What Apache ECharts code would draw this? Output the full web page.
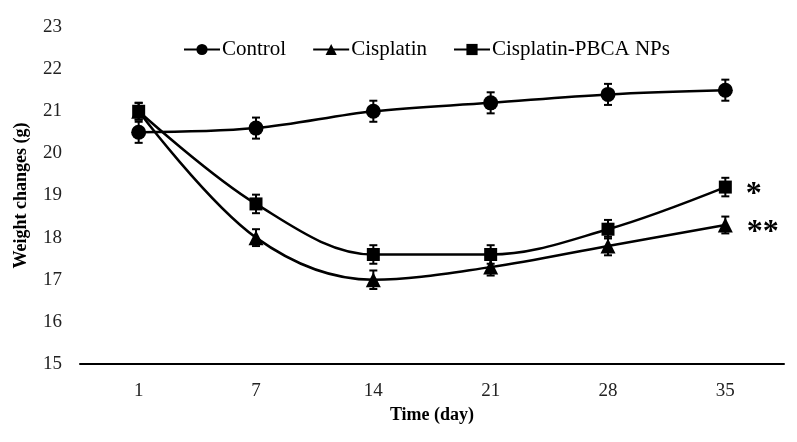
<!DOCTYPE html>
<html>
<head>
<meta charset="utf-8">
<script src="https://cdn.jsdelivr.net/npm/echarts@6/dist/echarts.min.js"></script>
<style>
  html, body { margin: 0; padding: 0; background: #fff; }
  #main { width: 797px; height: 442px; }
</style>
</head>
<body>
<div id="main"></div>
<script>
// 数据
var days = ['1', '7', '14', '21', '28', '35'];
var control = [20.5, 20.6, 21.0, 21.2, 21.4, 21.5];
var cisplatin = [21.0, 18.0, 17.0, 17.3, 17.8, 18.3];
var pbca = [21.0, 18.8, 17.6, 17.6, 18.2, 19.2];
var controlErr = [0.25, 0.25, 0.25, 0.25, 0.25, 0.25];
var cisplatinErr = [0.2, 0.2, 0.22, 0.2, 0.22, 0.2];
var pbcaErr = [0.2, 0.22, 0.22, 0.22, 0.22, 0.22];
var marks = { 'Cisplatin': '**', 'Cisplatin-PBCA NPs': '*' };

var FONT = '"Liberation Serif", "Times New Roman", serif';
var chart = echarts.init(document.getElementById('main'));

//误差棒
function errData(vals, errs) {
    return vals.map(function (v, i) { return [i, v - errs[i], v + errs[i]]; });
}
function errSeries(name, vals, errs) {
    return {
        type: 'custom',
        name: name,
        z: 3,
        silent: true,
        data: errData(vals, errs),
        renderItem: function (params, api) {
            var top = api.coord([api.value(0), api.value(2)]);
            var bot = api.coord([api.value(0), api.value(1)]);
            var w = 4;
            var st = { stroke: '#000', lineWidth: 2 };
            return {
                type: 'group',
                children: [
                    { type: 'line', shape: { x1: top[0], y1: top[1], x2: bot[0], y2: bot[1] }, style: st },
                    { type: 'line', shape: { x1: top[0] - w, y1: top[1], x2: top[0] + w, y2: top[1] }, style: st },
                    { type: 'line', shape: { x1: bot[0] - w, y1: bot[1], x2: bot[0] + w, y2: bot[1] }, style: st }
                ]
            };
        }
    };
}
function lineSeries(name, vals, symbol, size) {
    var last = vals.length - 1;
    return {
        type: 'line',
        name: name,
        data: vals,
        smooth: 0.35,
        symbol: symbol,
        symbolSize: size,
        z: 4,
        lineStyle: { color: '#000', width: 2.5 },
        itemStyle: { color: '#000' },
        label: {
            show: !!marks[name],
            position: 'right',
            distance: 14,
            offset: [0, 8],
            fontFamily: FONT,
            fontSize: 32,
            fontWeight: 'bold',
            color: '#000',
            formatter: function (p) { return p.dataIndex === last ? marks[name] : ''; }
        }
    };
}

chart.setOption({
    backgroundColor: '#fff',
    animation: false,
    textStyle: { fontFamily: FONT },
    legend: {
        top: 34,
        left: 178,
        itemGap: 26,
        itemWidth: 36,
        itemHeight: 14,
        data: ['Control', 'Cisplatin', 'Cisplatin-PBCA NPs'],
        textStyle: { fontFamily: FONT, fontSize: 21, color: '#000', padding: [0, 0, 0, -3] }
    },
    grid: { left: 80, right: 13, top: 27, bottom: 78 },
    xAxis: {
        type: 'category',
        data: days,
        name: 'Time (day)',
        nameLocation: 'middle',
        nameGap: 40,
        nameTextStyle: { fontFamily: FONT, fontSize: 18, fontWeight: 'bold', color: '#000' },
        axisLine: { lineStyle: { color: '#000', width: 2 } },
        axisTick: { show: false },
        axisLabel: { fontFamily: FONT, fontSize: 19, color: '#222', margin: 18 }
    },
    yAxis: {
        type: 'value',
        min: 15,
        max: 23,
        interval: 1,
        name: 'Weight changes (g)',
        nameLocation: 'middle',
        nameGap: 50,
        nameTextStyle: { fontFamily: FONT, fontSize: 18, fontWeight: 'bold', color: '#000' },
        axisLine: { show: false },
        axisTick: { show: false },
        splitLine: { show: false },
        axisLabel: { fontFamily: FONT, fontSize: 19, color: '#222', margin: 18 }
    },
    series: [
        lineSeries('Control', control, 'circle', 15),
        lineSeries('Cisplatin', cisplatin, 'triangle', 15),
        lineSeries('Cisplatin-PBCA NPs', pbca, 'rect', 13),
        errSeries('Control', control, controlErr),
        errSeries('Cisplatin', cisplatin, cisplatinErr),
        errSeries('Cisplatin-PBCA NPs', pbca, pbcaErr)
    ]
});
</script>
</body>
</html>
